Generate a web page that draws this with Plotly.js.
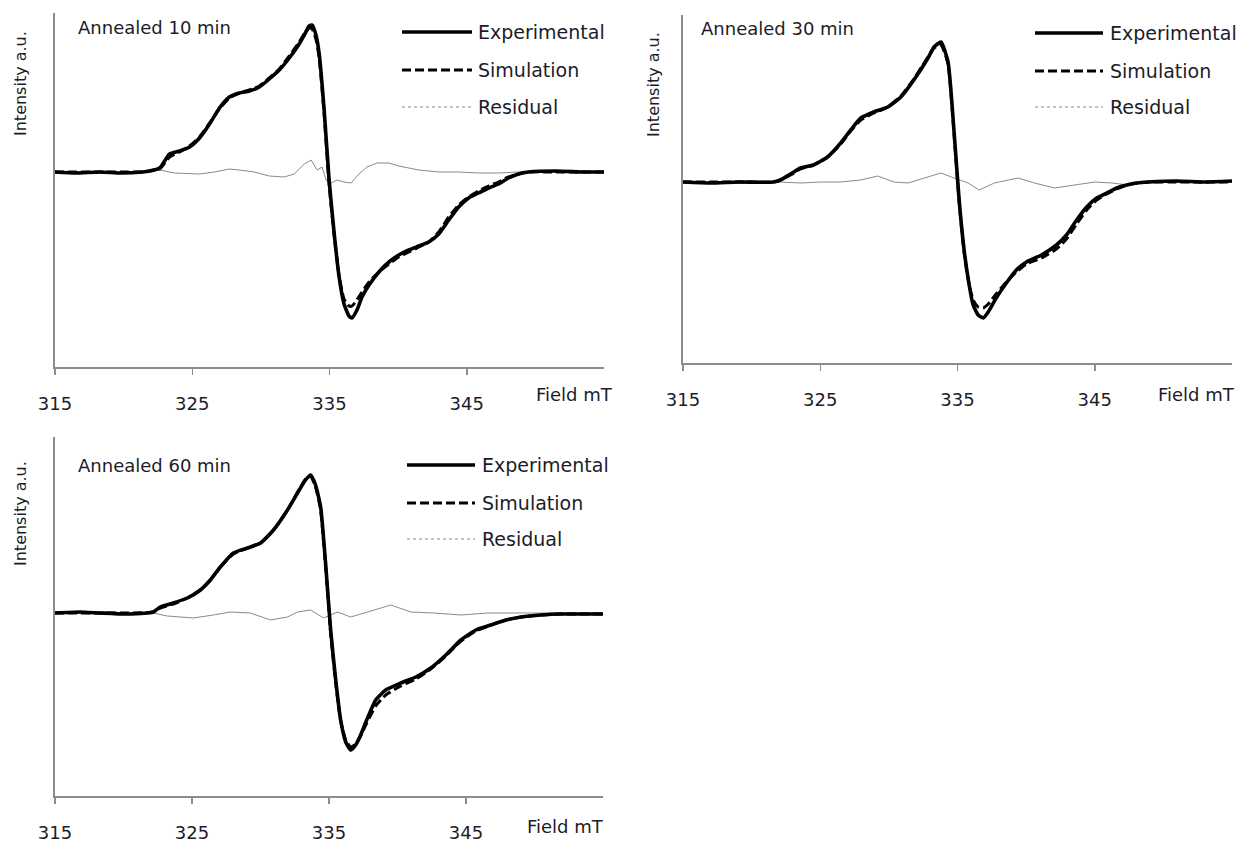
<!DOCTYPE html>
<html>
<head>
<meta charset="utf-8">
<script src="https://cdn.plot.ly/plotly-3.0.1.min.js"></script>
<style>html,body{margin:0;padding:0;background:#fff;}#chart{width:1239px;height:843px;}</style>
</head>
<body>
<div id="chart"></div>
<script>
// ---------- Data (Field in mT, intensity in arbitrary units) ----------
const tickFields = [315, 325, 335, 345];
const panelTitles = ["Annealed 10 min", "Annealed 30 min", "Annealed 60 min"];
const seriesNames = ["Experimental", "Simulation", "Residual"];

// Annealed 10 min
const field1 = [315,316.5,318.27,319.8,321.39,321.9,322.63,323.35,324.08,324.8,325.53,326.26,326.98,327.71,328.43,329.16,329.89,330.61,331.34,332.07,332.79,333.16,333.52,333.74,334.03,334.25,334.61,334.97,335.33,335.7,336.06,336.42,336.64,337.0,337.37,337.88,338.6,339.33,340.05,340.78,341.51,342.23,342.96,343.69,344.41,345.14,345.86,346.59,347.32,348.04,348.77,349.5,351.5,353.5,355];
const exp1 = [0,-1,0,-1,0,1,4,18,21,25,34,48,64,75,79,81,85,93,102,114,128,137,146,147,136,118,62,-8,-60,-105,-132,-144,-146,-138,-125,-113,-100,-90,-83,-78,-74,-70,-62,-48,-35,-26,-21,-16,-12,-6,-2,0,1,0,0];
const sim1 = [0,0,0,0,0,1,3,15,20,26,35,49,63,74,79,82,86,94,103,116,130,138,144,143,132,114,58,-12,-62,-104,-127,-134,-134,-128,-120,-110,-100,-92,-85,-80,-75,-70,-60,-45,-33,-25,-19,-14,-10,-5,-2,0,0,0,0];
const resField1 = [315,318.0,321.39,321.9,322.63,323.71,324.8,325.53,326.62,327.71,328.43,329.52,330.61,331.7,332.43,333.16,333.66,334.1,334.46,334.75,335.12,335.55,336.06,336.57,337.15,337.73,338.46,339.33,340.05,340.78,341.51,342.96,344.41,345.86,347.32,348.77,355];
const res1 = [0,0,0,1,2,-1,-2,-2,0,3,2,0,-4,-5,-2,8,12,2,5,-8,-11,-8,-10,-11,-2,5,9,9,6,4,2,0,0,-1,-1,0,0];

// Annealed 30 min
const field2 = [315,317,319,321.58,322.1,322.83,323.56,324.51,325.53,326.49,327.22,327.95,328.9,329.92,330.87,331.82,332.85,333.29,333.8,334.31,334.75,335.12,335.48,335.85,336.14,336.51,336.87,337.24,337.82,338.56,339.29,340.02,341.12,342.21,342.94,343.68,344.41,345.14,345.87,346.6,347.33,348.07,348.94,351,353,355];
const exp2 = [0,-1,0,0,2,8,14,17,25,39,52,64,70,75,85,102,124,135,140,120,50,-18,-68,-103,-123,-133,-136,-130,-116,-101,-88,-80,-73,-63,-53,-38,-25,-16,-11,-6,-3,-1,0,1,0,1];
const sim2 = [0,0,0,0,2,7,13,17,25,38,51,62,69,75,86,103,125,134,137,118,48,-20,-70,-103,-118,-125,-126,-122,-112,-100,-90,-82,-76,-67,-57,-42,-28,-18,-12,-7,-3,-1,0,0,0,0];
const resField2 = [315,321.58,322.1,323.56,325.02,326.49,327.95,329.19,330.36,331.39,332.34,333.8,334.75,335.78,336.58,337.68,339.43,340.6,342.07,343.53,345.0,346.24,347.48,348.94,355];
const res2 = [0,0,0,-1,0,0,2,6,0,-1,3,9,4,-1,-8,-1,4,-1,-6,-3,0,-1,-3,0,0];

// Annealed 60 min
const field3 = [315,316.8,318.29,320.2,322.17,322.68,323.63,324.66,325.61,326.34,327.07,328.02,329.05,330.0,330.95,331.97,332.92,333.29,333.65,334.02,334.39,334.75,335.12,335.49,335.85,336.22,336.58,336.95,337.31,337.75,338.41,339.14,340.24,341.34,342.43,343.53,344.63,345.72,346.82,347.92,349.02,350.48,351.94,353.5,355];
const exp3 = [0,1,0,-1,1,6,10,15,23,33,46,60,65,70,83,103,125,133,138,128,106,50,-17,-67,-107,-129,-137,-132,-122,-107,-87,-77,-70,-64,-55,-42,-27,-17,-12,-7,-4,-2,-1,-1,-1];
const sim3 = [0,0,0,0,1,5,9,15,23,33,46,59,65,70,83,103,126,134,137,126,103,47,-20,-70,-108,-127,-134,-131,-123,-110,-93,-82,-73,-66,-56,-43,-28,-18,-12,-7,-4,-2,-1,-1,-1];
const resField3 = [315,322.17,323.19,325.1,326.56,327.8,329.26,330.73,331.97,332.7,333.65,334.61,335.63,336.58,337.82,339.51,340.97,342.65,344.63,346.6,349.02,355];
const res3 = [0,0,-3,-5,-2,1,0,-7,-4,1,3,-5,1,-4,1,8,1,0,-2,0,0,0];

// ---------- Layout geometry (pixels) ----------
const W = 1239, H = 843;
const FONT = "'DejaVu Sans', sans-serif";
const TXT = "#1c1c28";
const AX = "#8c8c8c";
const panels = [
  {f: field1, e: exp1, s: sim1, rf: resField1, r: res1, x0: 55, x1: 604, top: 13, bot: 367, yr: [-195, 159],
   title: [76, 27], ytitle: [20, 84], field: [574, 394], leg: {x0: 402, x1: 472, tx: 476, ys: [32, 70, 107]}},
  {f: field2, e: exp2, s: sim2, rf: resField2, r: res2, x0: 683, x1: 1232, top: 15, bot: 363, yr: [-181, 167],
   title: [699, 28], ytitle: [653, 84], field: [1196, 394], leg: {x0: 1035, x1: 1103, tx: 1108, ys: [33, 71, 107]}},
  {f: field3, e: exp3, s: sim3, rf: resField3, r: res3, x0: 55, x1: 603, top: 437, bot: 796, yr: [-183, 176],
   title: [76, 465], ytitle: [20, 514], field: [565, 826], leg: {x0: 407, x1: 475, tx: 480, ys: [465, 503, 539]}}
];
const px = v => v / W, py = v => 1 - v / H;

const traces = [];
const layout = {
  width: W, height: H, margin: {l: 0, r: 0, t: 0, b: 0},
  paper_bgcolor: "#fff", plot_bgcolor: "#fff", showlegend: false,
  font: {family: FONT, color: TXT, size: 18},
  annotations: [], shapes: []
};
const styles = [
  {color: "#000", width: 3.6, dash: "solid", shape: "spline", smoothing: 0.5},
  {color: "#000", width: 3, dash: "9px,4px", shape: "spline", smoothing: 0.5},
  {color: "#8a8a8a", width: 1, dash: "solid"}
];

panels.forEach((p, i) => {
  const n = i === 0 ? "" : String(i + 1);
  const xa = "x" + n, ya = "y" + n;
  traces.push({x: p.rf, y: p.r, xaxis: xa, yaxis: ya, mode: "lines", name: seriesNames[2], line: styles[2], hoverinfo: "skip"});
  traces.push({x: p.f, y: p.e, xaxis: xa, yaxis: ya, mode: "lines", name: seriesNames[0], line: styles[0]});
  traces.push({x: p.f, y: p.s, xaxis: xa, yaxis: ya, mode: "lines", name: seriesNames[1], line: styles[1]});
  layout["xaxis" + n] = {
    domain: [px(p.x0), px(p.x1)], anchor: ya, range: [315, 355],
    showline: true, linecolor: AX, linewidth: 2, ticks: "outside", ticklen: 6, tickcolor: AX, tickwidth: 1.5,
    tickvals: tickFields, ticktext: tickFields.map(String), showgrid: false, zeroline: false,
    tickfont: {family: FONT, size: 18, color: TXT}, ticklabelstandoff: 13, fixedrange: true
  };
  layout["yaxis" + n] = {
    domain: [py(p.bot), py(p.top)], anchor: xa, range: p.yr,
    showline: true, linecolor: AX, linewidth: 2, ticks: "", showticklabels: false,
    showgrid: false, zeroline: false, fixedrange: true
  };
  layout.annotations.push({xref: "paper", yref: "paper", x: px(p.title[0]), y: py(p.title[1]), xanchor: "left", yanchor: "middle",
    text: panelTitles[i], showarrow: false, font: {family: FONT, size: 18, color: TXT}});
  layout.annotations.push({xref: "paper", yref: "paper", x: px(p.ytitle[0]), y: py(p.ytitle[1]), xanchor: "center", yanchor: "middle",
    text: "Intensity a.u.", textangle: -90, showarrow: false, font: {family: FONT, size: 16, color: TXT}});
  layout.annotations.push({xref: "paper", yref: "paper", x: px(p.field[0]), y: py(p.field[1]), xanchor: "center", yanchor: "middle",
    text: "Field mT", showarrow: false, font: {family: FONT, size: 18, color: TXT}});
  // legend
  seriesNames.forEach((nm, k) => {
    const st = k === 2 ? {color: "#8a8a8a", width: 1, dash: "dot"} : {color: "#000", width: styles[k].width, dash: styles[k].dash};
    layout.shapes.push({type: "line", xref: "paper", yref: "paper", x0: px(p.leg.x0), x1: px(p.leg.x1), y0: py(p.leg.ys[k]), y1: py(p.leg.ys[k]), line: st});
    layout.annotations.push({xref: "paper", yref: "paper", x: px(p.leg.tx), y: py(p.leg.ys[k]), xanchor: "left", yanchor: "middle",
      text: nm, showarrow: false, font: {family: FONT, size: 19, color: TXT}});
  });
});

Plotly.newPlot("chart", traces, layout, {staticPlot: true, displayModeBar: false});
</script>
</body>
</html>
